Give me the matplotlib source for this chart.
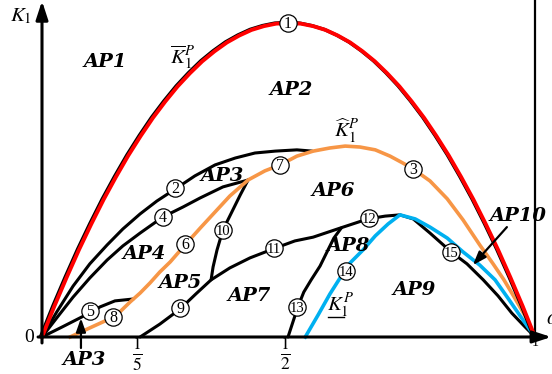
import matplotlib
matplotlib.use("Agg")
import matplotlib.pyplot as plt
import matplotlib.patheffects as pe

plt.rcParams["mathtext.fontset"] = "stix"

# ---- boundary curves (alpha on x, normalised K1 on y) ----
red_x = [0.000, 0.025, 0.050, 0.075, 0.100, 0.125, 0.150, 0.175, 0.200,
         0.225, 0.250, 0.275, 0.300, 0.325, 0.350, 0.375, 0.400, 0.425,
         0.450, 0.475, 0.500, 0.525, 0.550, 0.575, 0.600, 0.625, 0.650,
         0.675, 0.700, 0.725, 0.750, 0.775, 0.800, 0.825, 0.850, 0.875,
         0.900, 0.925, 0.950, 0.975, 1.000]
red_y = [0.000, 0.098, 0.190, 0.278, 0.360, 0.438, 0.510, 0.578, 0.640,
         0.698, 0.750, 0.798, 0.840, 0.878, 0.910, 0.938, 0.960, 0.978,
         0.990, 0.998, 1.000, 0.998, 0.990, 0.978, 0.960, 0.938, 0.910,
         0.878, 0.840, 0.798, 0.750, 0.698, 0.640, 0.578, 0.510, 0.438,
         0.360, 0.278, 0.190, 0.098, 0.000]

hill2_x = [0.000, 0.030, 0.063, 0.097, 0.132, 0.164, 0.199, 0.233, 0.270,
           0.310, 0.351, 0.392, 0.432, 0.473, 0.517, 0.548]
hill2_y = [0.000, 0.080, 0.162, 0.233, 0.293, 0.344, 0.392, 0.433, 0.471,
           0.513, 0.548, 0.570, 0.586, 0.592, 0.596, 0.592]

c4_x = [0.000, 0.030, 0.063, 0.097, 0.132, 0.164, 0.199, 0.245, 0.286,
        0.321, 0.367, 0.418]
c4_y = [0.000, 0.061, 0.127, 0.188, 0.245, 0.290, 0.331, 0.382, 0.414,
        0.443, 0.478, 0.500]

c5_x = [0.000, 0.041, 0.081, 0.118, 0.148, 0.185]
c5_y = [0.000, 0.032, 0.064, 0.096, 0.115, 0.121]

c10_x = [0.418, 0.402, 0.385, 0.367, 0.355, 0.347, 0.343]
c10_y = [0.500, 0.452, 0.398, 0.341, 0.277, 0.223, 0.182]

orange_x = [0.057, 0.097, 0.132, 0.158, 0.179, 0.199, 0.219, 0.239, 0.260,
            0.290, 0.321, 0.351, 0.381, 0.418, 0.452, 0.483, 0.517, 0.550,
            0.584, 0.615, 0.645, 0.676, 0.706, 0.732, 0.753, 0.787, 0.822,
            0.854, 0.888, 0.915, 0.937, 0.959, 0.980, 1.000]
orange_y = [0.000, 0.029, 0.054, 0.080, 0.112, 0.140, 0.172, 0.207, 0.239,
            0.293, 0.347, 0.398, 0.449, 0.500, 0.529, 0.548, 0.576, 0.592,
            0.602, 0.608, 0.605, 0.596, 0.576, 0.554, 0.535, 0.497, 0.440,
            0.373, 0.293, 0.233, 0.182, 0.124, 0.067, 0.000]

lower_x = [0.199, 0.239, 0.280, 0.312, 0.343, 0.381, 0.422, 0.473, 0.513,
           0.550, 0.605, 0.661, 0.696, 0.726, 0.753, 0.787, 0.830, 0.862,
           0.895, 0.925, 0.953, 0.978, 1.000]
lower_y = [0.000, 0.041, 0.089, 0.137, 0.182, 0.220, 0.252, 0.283, 0.306,
           0.318, 0.347, 0.376, 0.385, 0.389, 0.376, 0.331, 0.271, 0.233,
           0.182, 0.131, 0.076, 0.035, 0.000]

c13_x = [0.499, 0.509, 0.519, 0.531, 0.546, 0.564, 0.580, 0.592, 0.607]
c13_y = [0.000, 0.048, 0.096, 0.143, 0.182, 0.226, 0.277, 0.315, 0.347]

blue_x = [0.534, 0.560, 0.584, 0.607, 0.625, 0.651, 0.676, 0.702, 0.726,
          0.757, 0.787, 0.822, 0.854, 0.888, 0.919, 0.945, 0.970, 1.000]
blue_y = [0.000, 0.070, 0.137, 0.194, 0.236, 0.277, 0.322, 0.360, 0.389,
          0.376, 0.350, 0.315, 0.271, 0.229, 0.182, 0.124, 0.067, 0.000]

# ---- numbered boundary markers ----
mark_ids = ["1", "2", "3", "4", "5", "6", "7", "8", "9", "10", "11", "12",
            "13", "14", "15"]
mark_x = [0.499, 0.270, 0.753, 0.245, 0.097, 0.290, 0.483, 0.144, 0.280,
          0.367, 0.471, 0.663, 0.517, 0.617, 0.830]
mark_y = [1.000, 0.475, 0.535, 0.382, 0.083, 0.296, 0.548, 0.064, 0.092,
          0.341, 0.283, 0.379, 0.096, 0.210, 0.271]

# ---- region names ----
region_names = ["AP1", "AP2", "AP3", "AP4", "AP5", "AP6", "AP7", "AP8",
                "AP9", "AP10", "AP3"]
region_x = [0.129, 0.505, 0.365, 0.207, 0.280, 0.590, 0.420, 0.621, 0.755,
            0.966, 0.085]
region_y = [0.876, 0.787, 0.513, 0.264, 0.172, 0.465, 0.131, 0.290, 0.150,
            0.385, -0.073]

tick_vals = [0.2, 0.5, 1.0]
tick_text = [r"$\frac{1}{5}$", r"$\frac{1}{2}$", "1"]

BLACK_LW = 2.2
fig = plt.figure(figsize=(5.52, 3.74), dpi=100)
ax = fig.add_axes([0, 0, 1, 1])
ax.set_xlim(-42 / 493, 510 / 493)
ax.set_ylim(-37 / 314, 337 / 314)
ax.axis("off")

# axes with arrow heads
head = "-|>,head_length=0.55,head_width=0.18"
ax.annotate("", xy=(0, 1.070), xytext=(0, -0.019),
            arrowprops=dict(arrowstyle=head, mutation_scale=20, lw=2.2,
                            color="k", shrinkA=0, shrinkB=0), zorder=6)
ax.annotate("", xy=(1.033, 0), xytext=(-0.008, 0),
            arrowprops=dict(arrowstyle=head, mutation_scale=20, lw=2.2,
                            color="k", shrinkA=0, shrinkB=0), zorder=6)
ax.plot([1.0, 1.0], [0, 1.073], color="k", lw=1.6, zorder=1)

# black boundaries
for xs, ys in [(hill2_x, hill2_y), (c4_x, c4_y), (c5_x, c5_y),
               (c10_x, c10_y), (lower_x, lower_y), (c13_x, c13_y)]:
    ax.plot(xs, ys, color="k", lw=BLACK_LW, solid_capstyle="round",
            solid_joinstyle="round", zorder=2)

ax.plot(orange_x, orange_y, color="#F79646", lw=2.6,
        solid_joinstyle="round", zorder=3)
ax.plot(blue_x, blue_y, color="#00B0F0", lw=2.6,
        solid_joinstyle="round", zorder=3)
ax.plot(red_x, red_y, color="#FF0000", lw=2.8, solid_joinstyle="round",
        zorder=4,
        path_effects=[pe.Stroke(linewidth=2.4, foreground="k",
                                offset=(-1.0, 0.4)), pe.Normal()])

# numbered circles
ax.scatter(mark_x, mark_y, s=155, facecolor="white", edgecolor="k",
           linewidths=0.9, zorder=7)
for t, x, y in zip(mark_ids, mark_x, mark_y):
    ax.text(x, y - 0.004, t, ha="center", va="center",
            fontsize=11.5 if len(t) == 1 else 10.5,
            family="Liberation Serif", zorder=8)

# region names
for t, x, y in zip(region_names, region_x, region_y):
    ax.text(x, y, t, ha="center", va="center", fontsize=14,
            family="DejaVu Serif", weight="bold", style="italic", zorder=8)

# arrows pointing at thin regions
small_head = "-|>,head_length=0.45,head_width=0.16"
ax.annotate("", xy=(0.079, 0.060), xytext=(0.079, -0.035),
            arrowprops=dict(arrowstyle=small_head, mutation_scale=18, lw=1.6,
                            color="k", shrinkA=0, shrinkB=0), zorder=8)
ax.annotate("", xy=(0.874, 0.229), xytext=(0.943, 0.350),
            arrowprops=dict(arrowstyle=small_head, mutation_scale=18, lw=1.6,
                            color="k", shrinkA=0, shrinkB=0), zorder=8)

# curve names
ax.text(0.286, 0.892, r"$\overline{K}_1^P$", ha="center", va="center",
        fontsize=15, zorder=8)
ax.text(0.617, 0.656, r"$\widehat{K}_1^P$", ha="center", va="center",
        fontsize=15, zorder=8)
ax.text(0.605, 0.099, r"$K_1^P$", ha="center", va="center",
        fontsize=15, zorder=8)
ax.plot([0.580, 0.612], [0.064, 0.064], color="k", lw=1.0, zorder=8)

# axis names and tick labels
ax.text(-0.043, 1.022, r"$K_1$", ha="center", va="center", fontsize=15)
ax.text(1.022, 0.060, r"$\alpha$", ha="left", va="center", fontsize=16)
ax.text(-0.026, -0.003, "0", ha="center", va="center", fontsize=14,
        family="Liberation Serif")
for v, t in zip(tick_vals, tick_text):
    if v == 1.0:
        ax.text(v, -0.018, t, ha="center", va="center", fontsize=10,
                family="Liberation Serif")
    else:
        ax.text(v - 0.006, -0.055, t, ha="center", va="center", fontsize=18)

fig.savefig("out.png", dpi=100)
